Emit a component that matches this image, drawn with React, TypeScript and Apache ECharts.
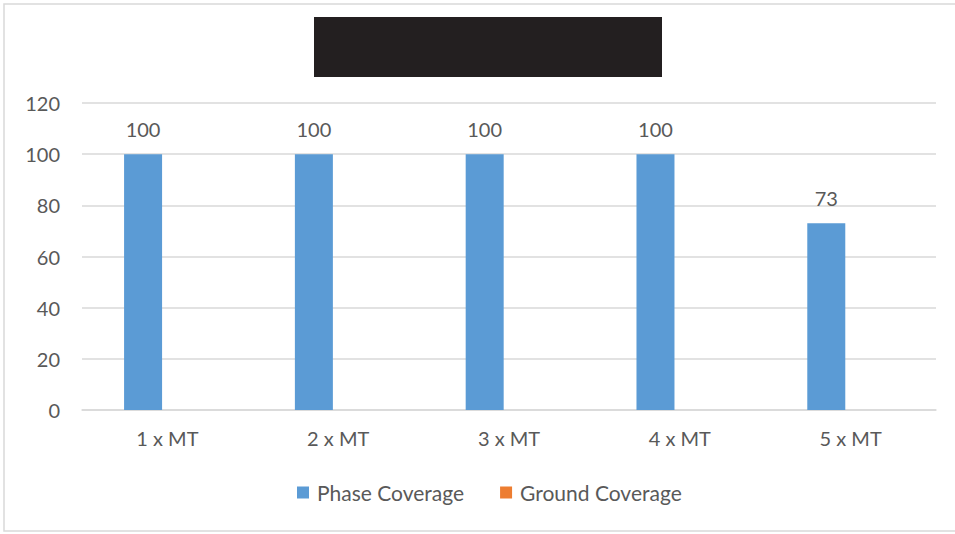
import React, { useEffect, useRef } from "react";
import * as echarts from "echarts";

const categories = ["1 x MT", "2 x MT", "3 x MT", "4 x MT", "5 x MT"];
const phaseCoverage = [100, 100, 100, 100, 73];
const groundCoverage = [0, 0, 0, 0, 0];
const yTicks = { min: 0, max: 120, interval: 20 };

const FONT = "Lato, 'Open Sans', sans-serif";
const TEXT = "#595959";

export default function App() {
  const ref = useRef<HTMLDivElement>(null);
  useEffect(() => {
    if (!ref.current) return;
    const chart = echarts.init(ref.current, undefined, { renderer: "svg" });
    chart.setOption({
      animation: false,
      backgroundColor: "#ffffff",
      textStyle: { fontFamily: FONT, color: TEXT },
      graphic: [
        {
          type: "rect",
          shape: { x: 4, y: 4, width: 960, height: 527 },
          style: { fill: "none", stroke: "#d9d9d9", lineWidth: 1.5 },
          z: 0,
        },
        {
          type: "rect",
          shape: { x: 314, y: 17, width: 348, height: 60 },
          style: { fill: "#231f20" },
          z: 10,
        },
      ],
      legend: {
        bottom: 26,
        left: 292,
        itemWidth: 12,
        itemHeight: 12,
        itemGap: 36,
        icon: "rect",
        textStyle: {
          fontFamily: FONT,
          fontSize: 21,
          color: TEXT,
          padding: [0, 0, 0, 3],
        },
        data: ["Phase Coverage", "Ground Coverage"],
      },
      grid: { left: 82, right: 19, top: 103, bottom: 124, containLabel: false },
      xAxis: {
        type: "category",
        data: categories,
        axisLine: { lineStyle: { color: "#d9d9d9", width: 1.5 } },
        axisTick: { show: false },
        axisLabel: { fontFamily: FONT, fontSize: 20, color: TEXT, margin: 18 },
      },
      yAxis: {
        type: "value",
        min: yTicks.min,
        max: yTicks.max,
        interval: yTicks.interval,
        axisLine: { show: false },
        axisTick: { show: false },
        splitLine: { lineStyle: { color: "#d9d9d9", width: 1.5 } },
        axisLabel: { fontFamily: FONT, fontSize: 20, color: TEXT, margin: 22 },
      },
      series: [
        {
          name: "Phase Coverage",
          type: "bar",
          data: phaseCoverage,
          barWidth: 38,
          barGap: "28%",
          itemStyle: { color: "#5b9bd5" },
          label: {
            show: true,
            position: "top",
            distance: 15,
            fontFamily: FONT,
            fontSize: 20,
            color: TEXT,
          },
        },
        {
          name: "Ground Coverage",
          type: "bar",
          data: groundCoverage,
          barWidth: 38,
          itemStyle: { color: "#ed7d31" },
        },
      ],
    });
    return () => chart.dispose();
  }, []);
  return (
    <div
      ref={ref}
      style={{ position: "absolute", left: 0, top: 0, width: 955, height: 534 }}
    />
  );
}
